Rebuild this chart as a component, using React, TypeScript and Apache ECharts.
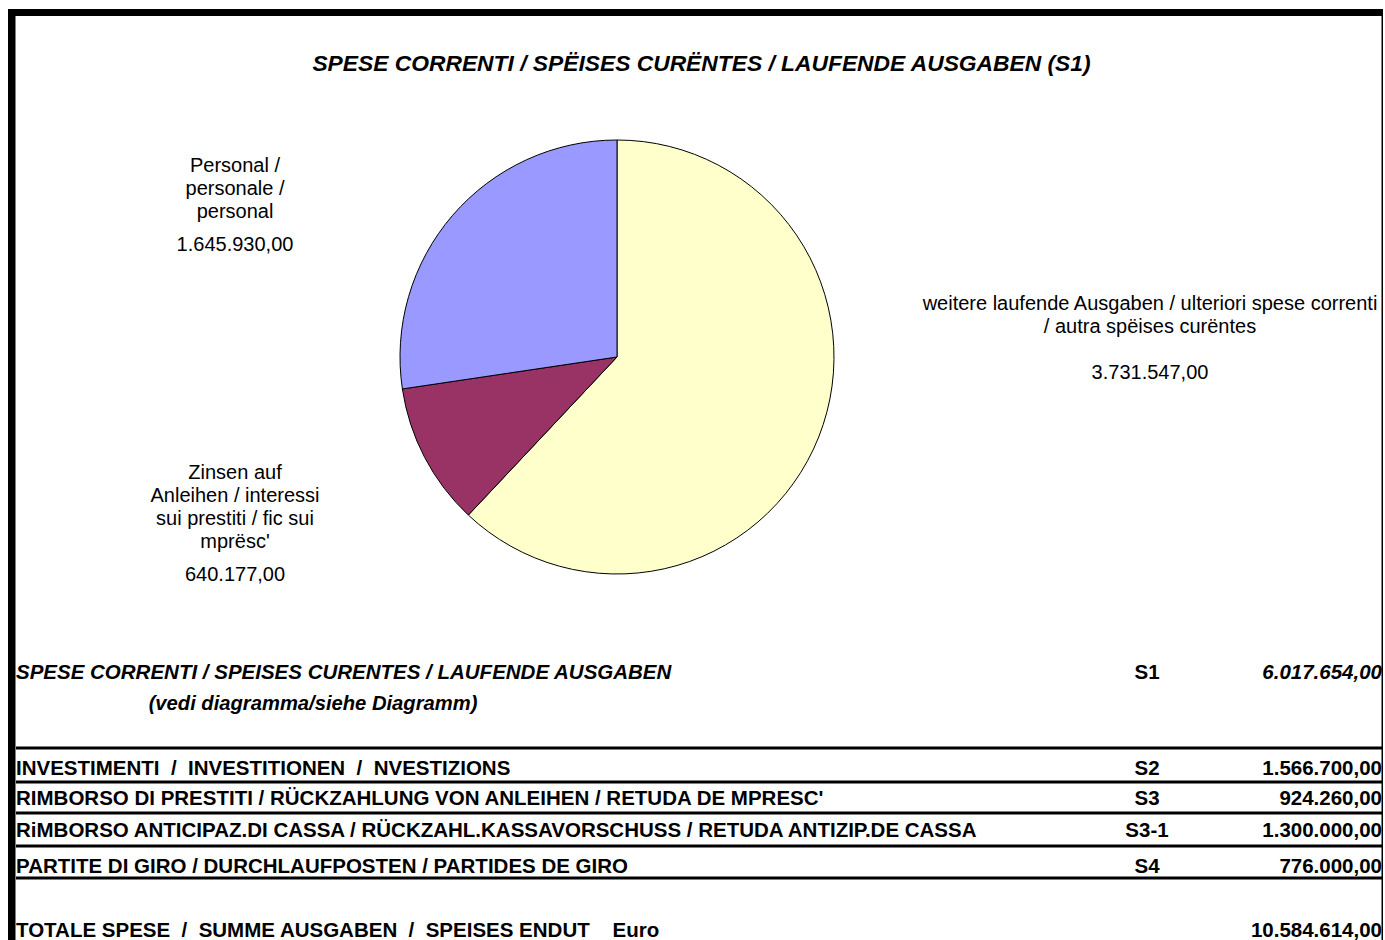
import React, { useEffect, useRef } from "react";
import * as echarts from "echarts";

// ---- data ----
const chartTitle = "SPESE CORRENTI / SPËISES CURËNTES / LAUFENDE AUSGABEN (S1)";
const pieNames = [
  "weitere laufende Ausgaben / ulteriori spese correnti\n/ autra spëises curëntes",
  "Zinsen auf\nAnleihen / interessi\nsui prestiti / fic sui\nmprësc'",
  "Personal /\npersonale /\npersonal",
];
const pieValues = [3731547.0, 640177.0, 1645930.0];
const pieColors = ["#FFFFCC", "#993366", "#9999FF"];

const s1Label = "SPESE CORRENTI / SPEISES CURENTES / LAUFENDE AUSGABEN";
const s1Note = "(vedi diagramma/siehe Diagramm)";
const s1Code = "S1";
const s1Value = 6017654.0;

const rowLabels = [
  "INVESTIMENTI  /  INVESTITIONEN  /  NVESTIZIONS",
  "RIMBORSO DI PRESTITI / RÜCKZAHLUNG VON ANLEIHEN / RETUDA DE MPRESC'",
  "RiMBORSO ANTICIPAZ.DI CASSA / RÜCKZAHL.KASSAVORSCHUSS / RETUDA ANTIZIP.DE CASSA",
  "PARTITE DI GIRO / DURCHLAUFPOSTEN / PARTIDES DE GIRO",
];
const rowCodes = ["S2", "S3", "S3-1", "S4"];
const rowValues = [1566700.0, 924260.0, 1300000.0, 776000.0];

const totalLabel = "TOTALE SPESE  /  SUMME AUSGABEN  /  SPEISES ENDUT    Euro";
const totalValue = 10584614.0;

// ---- layout (not data) ----
const FONT = "'Liberation Sans', Arial, Helvetica, sans-serif";
const labelAnchors = [
  { x: 1150, y: 291.5, blank: true },
  { x: 235, y: 460.5, blank: false },
  { x: 235, y: 153.5, blank: false },
];
const rowY = [767, 797, 829, 865];
const ruleY = [746.5, 780.5, 811.5, 844.5, 876.5];

function fmt(n: number): string {
  const [i, d] = n.toFixed(2).split(".");
  return i.replace(/\B(?=(\d{3})+(?!\d))/g, ".") + "," + d;
}

function txt(text: string, x: number, y: number, font: string, align = "left") {
  return {
    type: "text",
    style: {
      text,
      x,
      y,
      font,
      fill: "#000",
      align,
      textAlign: align,
      verticalAlign: "middle",
      textVerticalAlign: "middle",
    },
  };
}

function rect(x: number, y: number, w: number, h: number, fill = "#000") {
  return { type: "rect", shape: { x, y, width: w, height: h }, style: { fill }, silent: true };
}

export default function App() {
  const ref = useRef<HTMLDivElement>(null);
  useEffect(() => {
    if (!ref.current) return;
    const chart = echarts.init(ref.current, null, { renderer: "svg" });

    const bold = `bold 20.5px ${FONT}`;
    const boldItalic = `italic bold 20.5px ${FONT}`;
    const codeX = 1147;
    const valX = 1382;

    const graphics: any[] = [];
    graphics.push(txt(chartTitle, 701.5, 63, `italic bold 22.8px ${FONT}`, "center"));
    graphics.push(txt(s1Label, 16, 671, boldItalic));
    graphics.push(txt(s1Note, 313, 703, `italic bold 20.2px ${FONT}`, "center"));
    graphics.push(txt(s1Code, codeX, 671, bold, "center"));
    graphics.push(txt(fmt(s1Value), valX, 671, boldItalic, "right"));
    rowLabels.forEach((l, i) => {
      graphics.push(txt(l, 16, rowY[i], bold));
      graphics.push(txt(rowCodes[i], codeX, rowY[i], bold, "center"));
      graphics.push(txt(fmt(rowValues[i]), valX, rowY[i], bold, "right"));
    });
    graphics.push(txt(totalLabel, 16, 929, bold));
    graphics.push(txt(fmt(totalValue), valX, 929, bold, "right"));
    ruleY.forEach((y) => graphics.push(rect(16, y, 1366, 3)));
    // frame
    graphics.push(rect(8, 9, 1375, 7));
    graphics.push(rect(8, 9, 7.5, 931));
    graphics.push(rect(1381.5, 16, 1.5, 924));

    chart.setOption({
      animation: false,
      backgroundColor: "#fff",
      textStyle: { fontFamily: FONT },
      series: [
        {
          type: "pie",
          center: [617, 357],
          radius: 217,
          startAngle: 90,
          clockwise: true,
          avoidLabelOverlap: false,
          itemStyle: { borderColor: "#000", borderWidth: 1 },
          labelLine: { show: false },
          label: {
            show: true,
            position: "outside",
            formatter: (p: any) => {
              const a = labelAnchors[p.dataIndex];
              const lines = String(p.name)
                .split("\n")
                .map((s) => `{n|${s}}`);
              if (a.blank) lines.push("{n| }");
              lines.push(`{${a.blank ? "n" : "v"}|${fmt(p.value)}}`);
              return lines.join("\n");
            },
            rich: {
              n: { fontSize: 20, lineHeight: 23, color: "#000", fontFamily: FONT },
              v: { fontSize: 20, lineHeight: 43, color: "#000", fontFamily: FONT },
            },
          },
          labelLayout: (p: any) => {
            const a = labelAnchors[p.dataIndex];
            return { x: a.x, y: a.y, align: "center", verticalAlign: "top" };
          },
          data: pieNames.map((name, i) => ({
            name,
            value: pieValues[i],
            itemStyle: { color: pieColors[i] },
          })),
        },
      ],
      graphic: { elements: graphics },
    });
    return () => chart.dispose();
  }, []);
  return (
    <div
      ref={ref}
      style={{ position: "fixed", left: 0, top: 0, width: 1385, height: 940, background: "#fff" }}
    />
  );
}
